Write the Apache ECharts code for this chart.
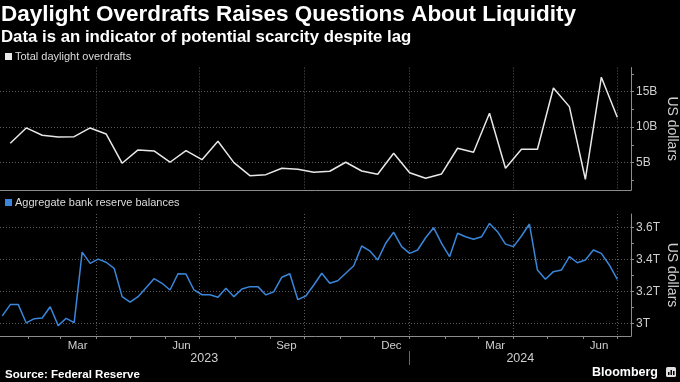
<!DOCTYPE html>
<html><head><meta charset="utf-8">
<script src="https://cdn.jsdelivr.net/npm/echarts@6/dist/echarts.min.js"></script>
<style>html,body{margin:0;padding:0;background:#000;}#c{width:680px;height:382px;}</style>
</head><body><div id="c"></div>
<script>
// ---- data ----
const overdraftDates = ['2023-01-16','2023-01-30','2023-02-13','2023-02-27','2023-03-13','2023-03-27','2023-04-10','2023-04-24','2023-05-08','2023-05-22','2023-06-05','2023-06-19','2023-07-03','2023-07-17','2023-07-31','2023-08-14','2023-08-28','2023-09-11','2023-09-25','2023-10-09','2023-10-23','2023-11-06','2023-11-20','2023-12-04','2023-12-18','2024-01-01','2024-01-15','2024-01-29','2024-02-12','2024-02-26','2024-03-11','2024-03-25','2024-04-08','2024-04-22','2024-05-06','2024-05-20','2024-06-03','2024-06-17','2024-07-01'];
const overdraftValues = [7.73, 9.89, 8.86, 8.62, 8.66, 9.89, 9.04, 4.92, 6.79, 6.65,
  5.06, 6.69, 5.42, 8.01, 5.0, 3.17, 3.31, 4.21, 4.07, 3.65,
  3.79, 5.06, 3.83, 3.37, 6.32, 3.59, 2.8, 3.41, 7.03, 6.46,
  11.96, 4.21, 6.89, 6.89, 15.52, 12.89, 2.66, 17.03, 11.39];
const reserveDates = ['2023-01-09','2023-01-16','2023-01-23','2023-01-30','2023-02-06','2023-02-13','2023-02-20','2023-02-27','2023-03-06','2023-03-13','2023-03-20','2023-03-27','2023-04-03','2023-04-10','2023-04-17','2023-04-24','2023-05-01','2023-05-08','2023-05-15','2023-05-22','2023-05-29','2023-06-05','2023-06-12','2023-06-19','2023-06-26','2023-07-03','2023-07-10','2023-07-17','2023-07-24','2023-07-31','2023-08-07','2023-08-14','2023-08-21','2023-08-28','2023-09-04','2023-09-11','2023-09-18','2023-09-25','2023-10-02','2023-10-09','2023-10-16','2023-10-23','2023-10-30','2023-11-06','2023-11-13','2023-11-20','2023-11-27','2023-12-04','2023-12-11','2023-12-18','2023-12-25','2024-01-01','2024-01-08','2024-01-15','2024-01-22','2024-01-29','2024-02-05','2024-02-12','2024-02-19','2024-02-26','2024-03-04','2024-03-11','2024-03-18','2024-03-25','2024-04-01','2024-04-08','2024-04-15','2024-04-22','2024-04-29','2024-05-06','2024-05-13','2024-05-20','2024-05-27','2024-06-03','2024-06-10','2024-06-17','2024-06-24','2024-07-01'];
const reserveValues = [3.046, 3.117, 3.117, 3.002, 3.029, 3.033, 3.104, 2.985, 3.031, 3.004,
  3.447, 3.376, 3.403, 3.383, 3.345, 3.167, 3.132, 3.167, 3.223, 3.280,
  3.251, 3.209, 3.311, 3.309, 3.209, 3.179, 3.179, 3.163, 3.220, 3.167,
  3.215, 3.230, 3.230, 3.178, 3.198, 3.289, 3.311, 3.148, 3.171, 3.240,
  3.314, 3.251, 3.267,
  3.314, 3.361, 3.485, 3.455, 3.397, 3.502, 3.571, 3.481, 3.439, 3.460,
  3.537, 3.600, 3.502, 3.418, 3.565, 3.543, 3.527, 3.543, 3.627, 3.575,
  3.497, 3.481, 3.548, 3.623, 3.334, 3.276, 3.324, 3.334, 3.418, 3.380,
  3.397, 3.460, 3.439, 3.366, 3.276];
const monthLabels = ['Mar','Jun','Sep','Dec','Mar','Jun'];
const monthLabelDates = ['2023-03-16','2023-06-15','2023-09-15','2023-12-16','2024-03-16','2024-06-15'];
const yearLabels = ['2023','2024'];
const yearLabelDates = ['2023-07-05','2024-04-07'];
const yearBreakDates = ['2024-01-01'];
const quarterDates = ['2023-04-01','2023-07-01','2023-10-01','2024-01-01','2024-04-01','2024-07-01'];
const monthTickDates = ['2023-02-01','2023-03-01','2023-04-01','2023-05-01','2023-06-01','2023-07-01','2023-08-01','2023-09-01','2023-10-01','2023-11-01','2023-12-01','2024-01-01','2024-02-01','2024-03-01','2024-04-01','2024-05-01','2024-06-01','2024-07-01'];
const overdraftTicks = [2.5, 5, 7.5, 10, 12.5, 15, 17.5];
const overdraftLabels = [5, 10, 15];
const reserveTicks = [3.0, 3.1, 3.2, 3.3, 3.4, 3.5, 3.6];
const reserveLabels = [3.0, 3.2, 3.4, 3.6];

// ---- helpers ----
const T = s => { const p = s.split('-').map(Number); return Date.UTC(p[0], p[1] - 1, p[2]); };
const X_MIN = T('2023-01-07'), X_MAX = T('2024-07-13');
const FONT = 'Liberation Sans';
const AXIS_COLOR = '#8c8c8c';
const GRID_COLOR = '#5a5a5a';
const LABEL_COLOR = '#cfcfcf';
const dotted = { show: true, lineStyle: { color: GRID_COLOR, width: 1, type: [1, 2] } };

const chart = echarts.init(document.getElementById('c'), null, { renderer: 'canvas' });
const monthMap = {}; monthLabelDates.forEach((d, i) => monthMap[T(d)] = monthLabels[i]);
const yearMap = {}; yearLabelDates.forEach((d, i) => yearMap[T(d)] = yearLabels[i]);

const option = {
  backgroundColor: '#000',
  animation: false,
  textStyle: { fontFamily: FONT },
  title: {
    text: 'Daylight Overdrafts Raises Questions About Liquidity',
    subtext: 'Data is an indicator of potential scarcity despite lag',
    left: 1, top: 3, padding: 0, itemGap: 3,
    textStyle: { color: '#fff', fontSize: 22.5, fontWeight: 'bold', fontFamily: FONT },
    subtextStyle: { color: '#fff', fontSize: 16.8, fontWeight: 'bold', fontFamily: FONT }
  },
  legend: [
    { data: ['Total daylight overdrafts'], left: 5, top: 51, padding: 0, icon: 'rect', itemWidth: 7, itemHeight: 7, selectedMode: false,
      textStyle: { color: '#dcdcdc', fontSize: 11, fontFamily: FONT, padding: [0, 0, 0, -2] } },
    { data: ['Aggregate bank reserve balances'], left: 5, top: 197, padding: 0, icon: 'rect', itemWidth: 7, itemHeight: 7, selectedMode: false,
      textStyle: { color: '#dcdcdc', fontSize: 11, fontFamily: FONT, padding: [0, 0, 0, -2] } }
  ],
  grid: [
    { left: 0, right: 49, top: 67.5, height: 122.5, containLabel: false, outerBoundsMode: 'none' },
    { left: 0, right: 49, top: 214, height: 122, containLabel: false, outerBoundsMode: 'none' }
  ],
  xAxis: [
    { gridIndex: 0, type: 'value', position: 'bottom', min: X_MIN, max: X_MAX,
      axisLine: { show: true, lineStyle: { color: AXIS_COLOR, width: 1 } },
      axisTick: { show: false, customValues: quarterDates.map(T) },
      axisLabel: { show: false }, splitLine: dotted },
    { gridIndex: 1, type: 'value', position: 'bottom', min: X_MIN, max: X_MAX,
      axisLine: { show: true, lineStyle: { color: AXIS_COLOR, width: 1 } },
      axisTick: { show: true, length: 3, customValues: monthTickDates.map(T), lineStyle: { color: AXIS_COLOR } },
      axisLabel: { show: false }, splitLine: { show: false } },
    { gridIndex: 1, type: 'value', position: 'bottom', min: X_MIN, max: X_MAX,
      axisLine: { show: false },
      axisTick: { show: false, customValues: quarterDates.map(T) },
      axisLabel: { show: true, customValues: monthLabelDates.map(T), margin: 4, color: LABEL_COLOR, fontSize: 11.5, fontFamily: FONT,
        formatter: v => monthMap[v] || '' },
      splitLine: dotted },
    { gridIndex: 1, type: 'value', position: 'bottom', offset: 15, min: X_MIN, max: X_MAX,
      axisLine: { show: false },
      axisTick: { show: true, length: 14, customValues: yearBreakDates.map(T), lineStyle: { color: '#6a6a6a' } },
      axisLabel: { show: true, customValues: yearLabelDates.map(T), margin: 1, color: LABEL_COLOR, fontSize: 12.5, fontFamily: FONT,
        formatter: v => yearMap[v] || '' },
      splitLine: { show: false } }
  ],
  yAxis: [
    { gridIndex: 0, type: 'value', position: 'right', min: 1.15, max: 18.4,
      axisLine: { show: true, lineStyle: { color: AXIS_COLOR, width: 1 } },
      axisTick: { show: true, length: 3, customValues: overdraftTicks, lineStyle: { color: AXIS_COLOR } },
      axisLabel: { show: true, customValues: overdraftLabels, margin: 5, color: LABEL_COLOR, fontSize: 12, fontFamily: FONT,
        formatter: v => v + 'B' },
      splitLine: { show: false },
      name: 'US dollars', nameLocation: 'middle', nameRotate: -90, nameGap: 34, nameMoveOverlap: false,
      nameTextStyle: { color: LABEL_COLOR, fontSize: 14, fontFamily: FONT } },
    { gridIndex: 0, type: 'value', position: 'right', min: 1.15, max: 18.4,
      axisLine: { show: false }, axisTick: { show: false, customValues: overdraftLabels },
      axisLabel: { show: false }, splitLine: dotted },
    { gridIndex: 1, type: 'value', position: 'right', min: 2.92, max: 3.686,
      axisLine: { show: true, lineStyle: { color: AXIS_COLOR, width: 1 } },
      axisTick: { show: true, length: 3, customValues: reserveTicks, lineStyle: { color: AXIS_COLOR } },
      axisLabel: { show: true, customValues: reserveLabels, margin: 5, color: LABEL_COLOR, fontSize: 12, fontFamily: FONT,
        formatter: v => (Math.round(v * 10) / 10) + 'T' },
      splitLine: { show: false },
      name: 'US dollars', nameLocation: 'middle', nameRotate: -90, nameGap: 34, nameMoveOverlap: false,
      nameTextStyle: { color: LABEL_COLOR, fontSize: 14, fontFamily: FONT } },
    { gridIndex: 1, type: 'value', position: 'right', min: 2.92, max: 3.686,
      axisLine: { show: false }, axisTick: { show: false, customValues: reserveLabels },
      axisLabel: { show: false }, splitLine: dotted }
  ],
  series: [
    { name: 'Total daylight overdrafts', type: 'line', xAxisIndex: 0, yAxisIndex: 0,
      data: overdraftDates.map((d, i) => [T(d), overdraftValues[i]]),
      showSymbol: false, color: '#e8e8e8', lineStyle: { width: 1.5, color: '#e8e8e8' } },
    { name: 'Aggregate bank reserve balances', type: 'line', xAxisIndex: 1, yAxisIndex: 2,
      data: reserveDates.map((d, i) => [T(d), reserveValues[i]]),
      showSymbol: false, color: '#3a86da', lineStyle: { width: 1.5, color: '#3a86da' } }
  ],
  graphic: [
    { type: 'text', left: 5, top: 369, style: { text: 'Source: Federal Reserve', fill: '#fff', font: 'bold 11.5px "Liberation Sans"' } },
    { type: 'text', right: 22, top: 366, style: { text: 'Bloomberg', fill: '#fff', font: 'bold 12.5px "Liberation Sans"' } },
    { type: 'group', left: 666, top: 367, children: [
      { type: 'rect', shape: { x: 0, y: 0, width: 10, height: 10, r: 1.5 }, style: { fill: '#e0e0e0' } },
      { type: 'rect', shape: { x: 2, y: 5, width: 1.5, height: 3 }, style: { fill: '#000' } },
      { type: 'rect', shape: { x: 4.5, y: 3, width: 1.5, height: 5 }, style: { fill: '#000' } },
      { type: 'rect', shape: { x: 7, y: 4, width: 1.5, height: 4 }, style: { fill: '#000' } }
    ] }
  ]
};
chart.setOption(option);
</script>
</body></html>
